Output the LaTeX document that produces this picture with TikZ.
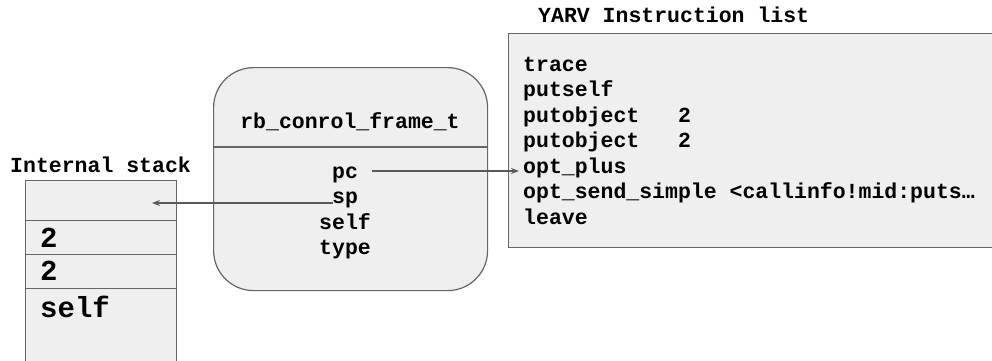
\documentclass[tikz,border=0pt]{standalone}
\usepackage{fontspec}
\setmainfont{Liberation Mono}
\usetikzlibrary{arrows.meta}
\definecolor{boxfill}{RGB}{239,239,239}
\definecolor{boxline}{RGB}{102,102,102}
\definecolor{arrowc}{RGB}{89,89,89}
\tikzset{
  txt/.style={inner sep=0pt, anchor=base west, font=\fontsize{21.5}{25}\selectfont\bfseries},
  ctxt/.style={inner sep=0pt, anchor=base, font=\fontsize{21.5}{25}\selectfont\bfseries},
  big/.style={inner sep=0pt, anchor=base west, font=\fontsize{29}{32}\selectfont\bfseries},
  panel/.style={draw=boxline, fill=boxfill, line width=1.2pt},
  link/.style={draw=arrowc, line width=1.2pt, -{Stealth[length=8pt,width=6pt]}}
}
\begin{document}
\begin{tikzpicture}[x=1pt,y=-1pt]
\clip (0,0) rectangle (992,360);
% stack
\node[txt] (stacklbl) at (10,172) {Internal stack};
\node[panel, minimum width=151pt, minimum height=40pt, anchor=north west, inner sep=0pt] (row1) at (25,180) {};
\node[panel, minimum width=151pt, minimum height=34pt, anchor=north west, inner sep=0pt] (row2) at (25,220) {};
\node[panel, minimum width=151pt, minimum height=34pt, anchor=north west, inner sep=0pt] (row3) at (25,254) {};
\node[panel, minimum width=151pt, minimum height=90pt, anchor=north west, inner sep=0pt] (row4) at (25,288) {};
\node[big] (v1) at (40,247) {2};
\node[big] (v2) at (40,280) {2};
\node[big] (v3) at (40,317) {self};
% control frame
\node[panel, rounded corners=40pt, minimum width=274pt, minimum height=223pt, anchor=north west, inner sep=0pt] (frame) at (213,67) {};
\draw[boxline, line width=1.2pt] (frame.west |- 0,147) -- (frame.east |- 0,147);
\node[ctxt] (fname) at (350,128) {rb\_conrol\_frame\_t};
\node[ctxt] (pc) at (345,178) {pc};
\node[ctxt] (sp) at (345,203.5) {sp};
\node[ctxt] (fself) at (345,229) {self};
\node[ctxt] (ftype) at (345,254.5) {type};
% instruction list
\node[txt] (yarv) at (538,22) {YARV Instruction list};
\node[panel, minimum width=500pt, minimum height=214pt, anchor=north west, inner sep=0pt] (ilist) at (508,33) {};
\node[txt] (i1) at (523,71) {trace};
\node[txt] (i2) at (523,96.5) {putself};
\node[txt] (i3) at (523,122) {putobject\ \ \ 2};
\node[txt] (i4) at (523,147.5) {putobject\ \ \ 2};
\node[txt] (i5) at (523,173) {opt\_plus};
\node[txt] (i6) at (523,198.5) {opt\_send\_simple <callinfo!mid:puts…};
\node[txt] (i7) at (523,224) {leave};
% connectors
\coordinate (pcstart) at (372,171);
\coordinate (pcend) at (519,171);
\coordinate (spstart) at (333,203);
\coordinate (sptip) at (152,203);
\draw[link] (pcstart) -- (pcend);
\draw[link] (spstart) -- (sptip);
\end{tikzpicture}
\end{document}
